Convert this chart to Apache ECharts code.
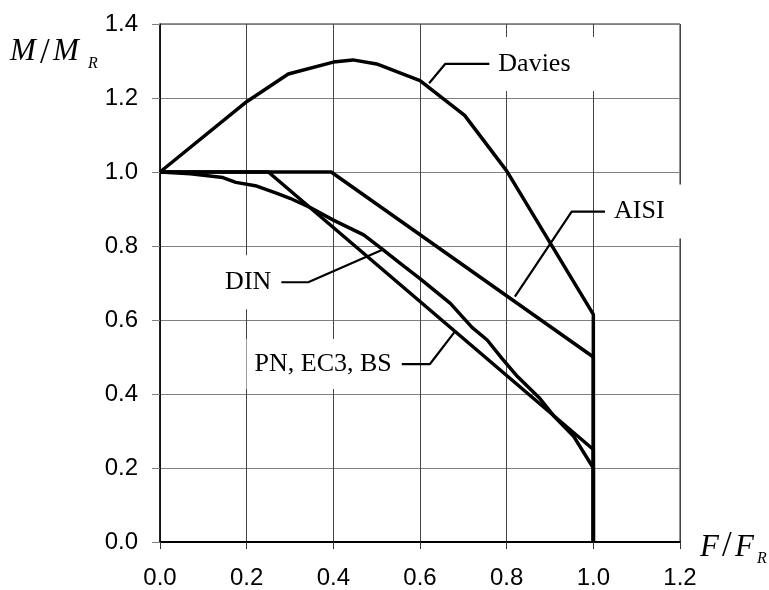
<!DOCTYPE html>
<html>
<head>
<meta charset="utf-8">
<script src="https://cdn.jsdelivr.net/npm/echarts@6/dist/echarts.min.js"></script>
<style>
  html, body { margin: 0; padding: 0; background: #fff; }
  #chart { width: 769px; height: 590px; }
</style>
</head>
<body>
<div id="chart"></div>
<script>
// curves, [F/FR, M/MR]
var davies = [[0, 1.0], [0.2, 1.19], [0.296, 1.265], [0.4, 1.297], [0.445, 1.303], [0.5, 1.292],
  [0.6, 1.247], [0.703, 1.153], [0.8, 1.003], [1.0, 0.615], [1.0, 0]];
var aisi = [[0, 1.0], [0.395, 1.0], [1.0, 0.5], [1.0, 0]];
var pnEc3Bs = [[0, 1.0], [0.25, 1.0], [1.0, 0.25], [1.0, 0]];
var din = [[0, 1.0], [0.07, 0.995], [0.145, 0.985], [0.175, 0.972], [0.22, 0.963], [0.27, 0.942],
  [0.3, 0.929], [0.35, 0.902], [0.4, 0.87], [0.47, 0.83], [0.51, 0.794], [0.55, 0.757],
  [0.6, 0.712], [0.67, 0.645], [0.72, 0.58], [0.755, 0.546], [0.79, 0.495], [0.825, 0.447],
  [0.875, 0.39], [0.91, 0.339], [0.955, 0.285], [1.0, 0.2], [1.0, 0]];

// leader lines to the curve names
var daviesLead = [[0.621, 1.24], [0.658, 1.292], [0.76, 1.292]];
var aisiLead = [[0.819, 0.663], [0.95, 0.893], [1.027, 0.893]];
var dinLead = [[0.28, 0.702], [0.342, 0.702], [0.512, 0.789]];
var pnLead = [[0.558, 0.481], [0.623, 0.481], [0.68, 0.568]];

var xTicks = [0, 0.2, 0.4, 0.6, 0.8, 1.0, 1.2];
var yTicks = [0, 0.2, 0.4, 0.6, 0.8, 1.0, 1.2, 1.4];

var chart = echarts.init(document.getElementById('chart'));

function curve(name, data) {
  return {
    name: name, type: 'line', data: data, symbol: 'none', z: 3,
    lineStyle: { color: '#000', width: 3.5 }
  };
}

// label box is white so it hides the grid behind the text
function leader(name, data, labelAt, pos, pad) {
  var pts = data.map(function (p, i) {
    if (i !== labelAt) return p;
    return {
      value: p,
      label: {
        show: true, position: pos, distance: 4, formatter: name,
        fontFamily: 'Liberation Serif', fontSize: 26, color: '#000',
        backgroundColor: '#fff', padding: pad
      }
    };
  });
  return {
    name: name, type: 'line', data: pts, symbol: 'circle', symbolSize: 0, showSymbol: true, z: 4,
    itemStyle: { color: '#000' },
    lineStyle: { color: '#000', width: 2.2 }
  };
}

var serif = 'Liberation Serif';
function glyph(x, y, text, size, italic) {
  return {
    type: 'text', left: x, top: y,
    style: { text: text, fontFamily: serif, fontSize: size, fontStyle: italic ? 'italic' : 'normal', fill: '#000' }
  };
}

var option = {
  backgroundColor: '#fff',
  animation: false,
  grid: { left: 160, right: 89, top: 24, bottom: 48, outerBoundsMode: 'none',
    show: true, borderColor: '#222', borderWidth: 1 },
  xAxis: {
    type: 'value', min: xTicks[0], max: xTicks[xTicks.length - 1], interval: 0.2,
    axisLine: { show: true, lineStyle: { color: '#000', width: 2 } },
    axisTick: { show: true, length: 7, lineStyle: { color: '#333' } },
    axisLabel: { margin: 24, fontFamily: 'Liberation Sans', fontSize: 24, color: '#000',
      formatter: function (v) { return v.toFixed(1); } },
    splitLine: { show: true, lineStyle: { color: '#444', width: 1 } }
  },
  yAxis: {
    type: 'value', min: yTicks[0], max: yTicks[yTicks.length - 1], interval: 0.2,
    axisLine: { show: true, lineStyle: { color: '#000', width: 1.5 } },
    axisTick: { show: true, length: 8, lineStyle: { color: '#808080' } },
    axisLabel: { margin: 22, fontFamily: 'Liberation Sans', fontSize: 24, color: '#000',
      formatter: function (v) { return v.toFixed(1); } },
    splitLine: { show: true, lineStyle: { color: '#808080', width: 1.2 } }
  },
  series: [
    curve('Davies', davies),
    curve('AISI', aisi),
    curve('PN, EC3, BS', pnEc3Bs),
    curve('DIN', din),
    leader('Davies', daviesLead, 2, 'right', [14, 26, 14, 5]),
    leader('AISI', aisiLead, 2, 'right', [14, 20, 14, 5]),
    leader('DIN', dinLead, 0, 'left', [14, 6, 14, 30]),
    leader('PN, EC3, BS', pnLead, 0, 'left', [12, 6, 12, 8])
  ],
  graphic: [
    // M / M_R
    glyph(10, 36, 'M', 31, true),
    glyph(40, 36, '/', 35, false),
    glyph(53, 36, 'M', 31, true),
    glyph(88, 56, 'R', 16, true),
    // F / F_R
    glyph(700, 532, 'F', 31, true),
    glyph(722, 529, '/', 35, false),
    glyph(735, 532, 'F', 31, true),
    glyph(757, 551, 'R', 16, true)
  ]
};

chart.setOption(option);
</script>
</body>
</html>
